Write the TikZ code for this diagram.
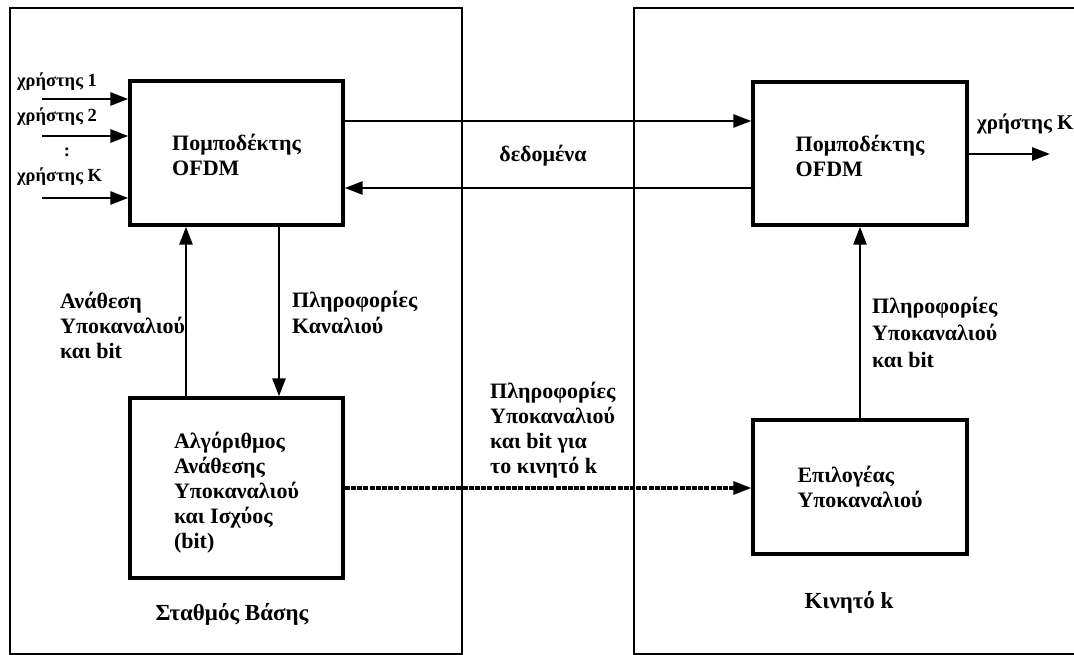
\documentclass[tikz,border=0pt]{standalone}
\usepackage{fontspec}
\setmainfont{Liberation Serif}
\usetikzlibrary{arrows.meta}
\begin{document}
\begin{tikzpicture}[x=1pt,y=-1pt,
  frame/.style={draw,line width=1.8pt},
  blk/.style={draw,rectangle,line width=3.4pt,inner sep=0pt},
  txt/.style={inner sep=0pt,align=left,font=\fontsize{22}{25}\selectfont\bfseries},
  lbl/.style={inner sep=0pt,align=left,font=\fontsize{22}{25}\selectfont\bfseries},
  small/.style={inner sep=0pt,align=left,font=\fontsize{18.5}{22}\selectfont\bfseries},
  arr/.style={line width=2.8pt,-{Triangle[length=18pt,width=13pt]}},
  darr/.style={arr,line width=3.2pt,dash pattern=on 5pt off 1.2pt}]
\useasboundingbox (0,0) rectangle (1074,655);
\draw[frame] (10,8) rectangle (462,654);
\draw[frame] (634,8) rectangle (1090,654);
% blocks
\node[blk,minimum width=213pt,minimum height=144pt] (tx) at (236.5,153) {};
\node[blk,minimum width=214pt,minimum height=143pt] (rx) at (860,153.5) {};
\node[blk,minimum width=213pt,minimum height=180pt] (alg) at (236.5,488) {};
\node[blk,minimum width=214pt,minimum height=134pt] (sel) at (860,487) {};
\node[txt] (txt1) at ([yshift=-2pt]tx.center) {Πομποδέκτης\\OFDM};
\node[txt] (txt2) at ([yshift=-2pt]rx.center) {Πομποδέκτης\\OFDM};
\node[txt] (txt3) at ([yshift=-5pt]alg.center) {Αλγόριθμος\\Ανάθεσης\\Υποκαναλιού\\και Ισχύος\\(bit)};
\node[txt] (txt4) at (sel.center) {Επιλογέας\\Υποκαναλιού};
% inputs
\coordinate (in1) at (42,99);
\coordinate (in2) at (42,136);
\coordinate (in3) at (42,198);
\draw[arr] (in1) -- (in1 -| tx.west);
\draw[arr] (in2) -- (in2 -| tx.west);
\draw[arr] (in3) -- (in3 -| tx.west);
\node[small,anchor=base west] (u1) at (17,87) {χρήστης 1};
\node[small,anchor=base west] (u2) at (17,122) {χρήστης 2};
\node[small,anchor=base] (dots) at (67,157) {:};
\node[small,anchor=base west] (uk) at (17,182) {χρήστης Κ};
% data links
\coordinate (d1) at (343,121);
\coordinate (d2) at (753,188);
\draw[arr] (d1) -- (d1 -| rx.west);
\draw[arr] (d2) -- (d2 -| tx.east);
\node[lbl,anchor=base] (data) at (543,162) {δεδομένα};
% output
\coordinate (out) at (1050,154);
\draw[arr] (out -| rx.east) -- (out);
\node[lbl,font=\fontsize{21}{25}\selectfont\bfseries,anchor=base west] (uo) at (977,130) {χρήστης Κ};
% vertical links base station
\coordinate (va) at (186,0);
\coordinate (vb) at (279,0);
\draw[arr] (va |- alg.north) -- (va |- tx.south);
\draw[arr] (vb |- tx.south) -- (vb |- alg.north);
\node[lbl,anchor=base west] (la) at (60,358) {Ανάθεση\\Υποκαναλιού\\και bit};
\node[lbl,anchor=base west] (lb) at (292,333) {Πληροφορίες\\Καναλιού};
% mobile vertical
\draw[arr] (sel.north) -- (rx.south);
\node[lbl,anchor=base west,font=\fontsize{22}{27}\selectfont\bfseries] (lc) at (872,367) {Πληροφορίες\\Υποκαναλιού\\και bit};
% dotted
\coordinate (dd) at (0,488);
\draw[darr] (dd -| alg.east) -- (dd -| sel.west);
\node[lbl,anchor=base west] (ld) at (490,473) {Πληροφορίες\\Υποκαναλιού\\και bit για\\το κινητό k};
% captions
\node[lbl,font=\fontsize{23}{25}\selectfont\bfseries,anchor=center] (bs) at (232,614) {Σταθμός Βάσης};
\node[lbl,font=\fontsize{23}{25}\selectfont\bfseries,anchor=center] (mb) at (849,602) {Κινητό k};
\end{tikzpicture}
\end{document}
